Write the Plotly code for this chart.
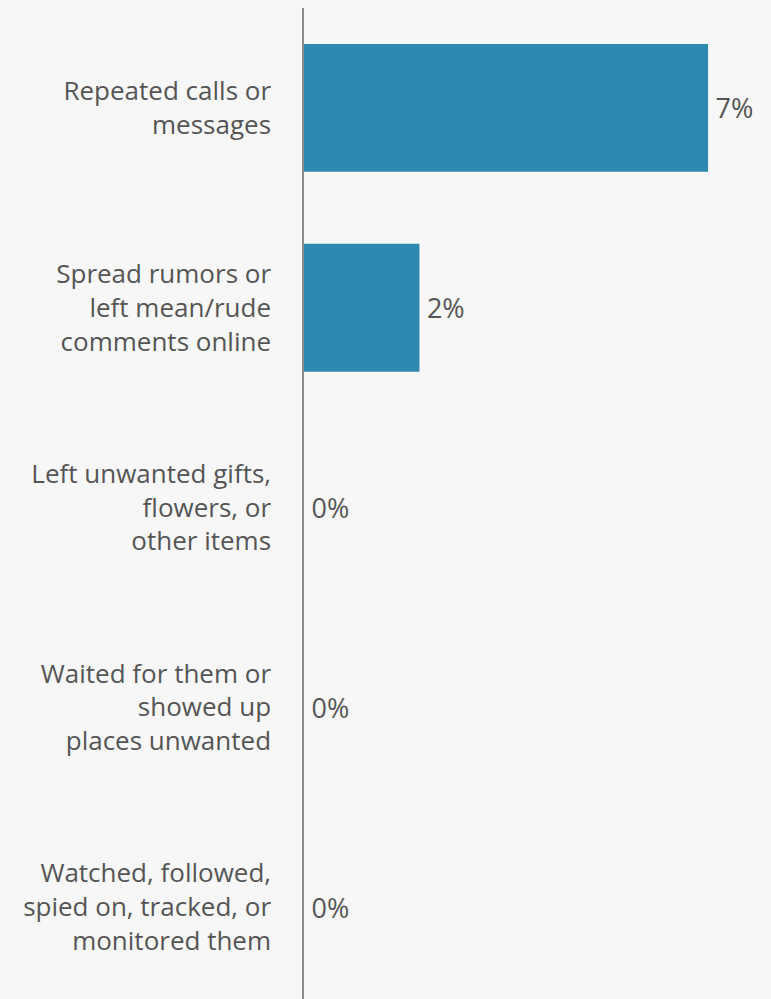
import plotly.graph_objects as go

categories = [
    "Repeated calls or<br>messages",
    "Spread rumors or<br>left mean/rude<br>comments online",
    "Left unwanted gifts,<br>flowers, or<br>other items",
    "Waited for them or<br>showed up<br>places unwanted",
    "Watched, followed,<br>spied on, tracked, or<br>monitored them",
]
values = [7, 2, 0, 0, 0]
labels = [f"\u2009{v}%" for v in values]

bar_color = "#2e89b0"
text_color = "#555555"
bg = "#f7f7f7"

fig = go.Figure(
    go.Bar(
        y=categories,
        x=values,
        orientation="h",
        width=0.64,
        marker=dict(color=bar_color, line=dict(width=0)),
        text=labels,
        textposition="outside",
        textfont=dict(family="Open Sans", size=27, color=text_color),
        cliponaxis=False,
    )
)

fig.update_layout(
    width=771,
    height=999,
    margin=dict(l=304, r=0, t=8, b=0),
    paper_bgcolor=bg,
    plot_bgcolor=bg,
    showlegend=False,
    font=dict(family="Open Sans", color=text_color),
)

fig.update_xaxes(
    range=[0, 8.09],
    showgrid=False,
    zeroline=False,
    showticklabels=False,
    showline=False,
)

fig.update_yaxes(
    type="category",
    range=[4.46, -0.5],
    showgrid=False,
    zeroline=False,
    showline=True,
    linecolor="#8a8a8a",
    linewidth=1.5,
    ticks="",
    ticklabelstandoff=26,
    tickfont=dict(family="Open Sans", size=26, color=text_color),
)

fig.write_html("out.html")
